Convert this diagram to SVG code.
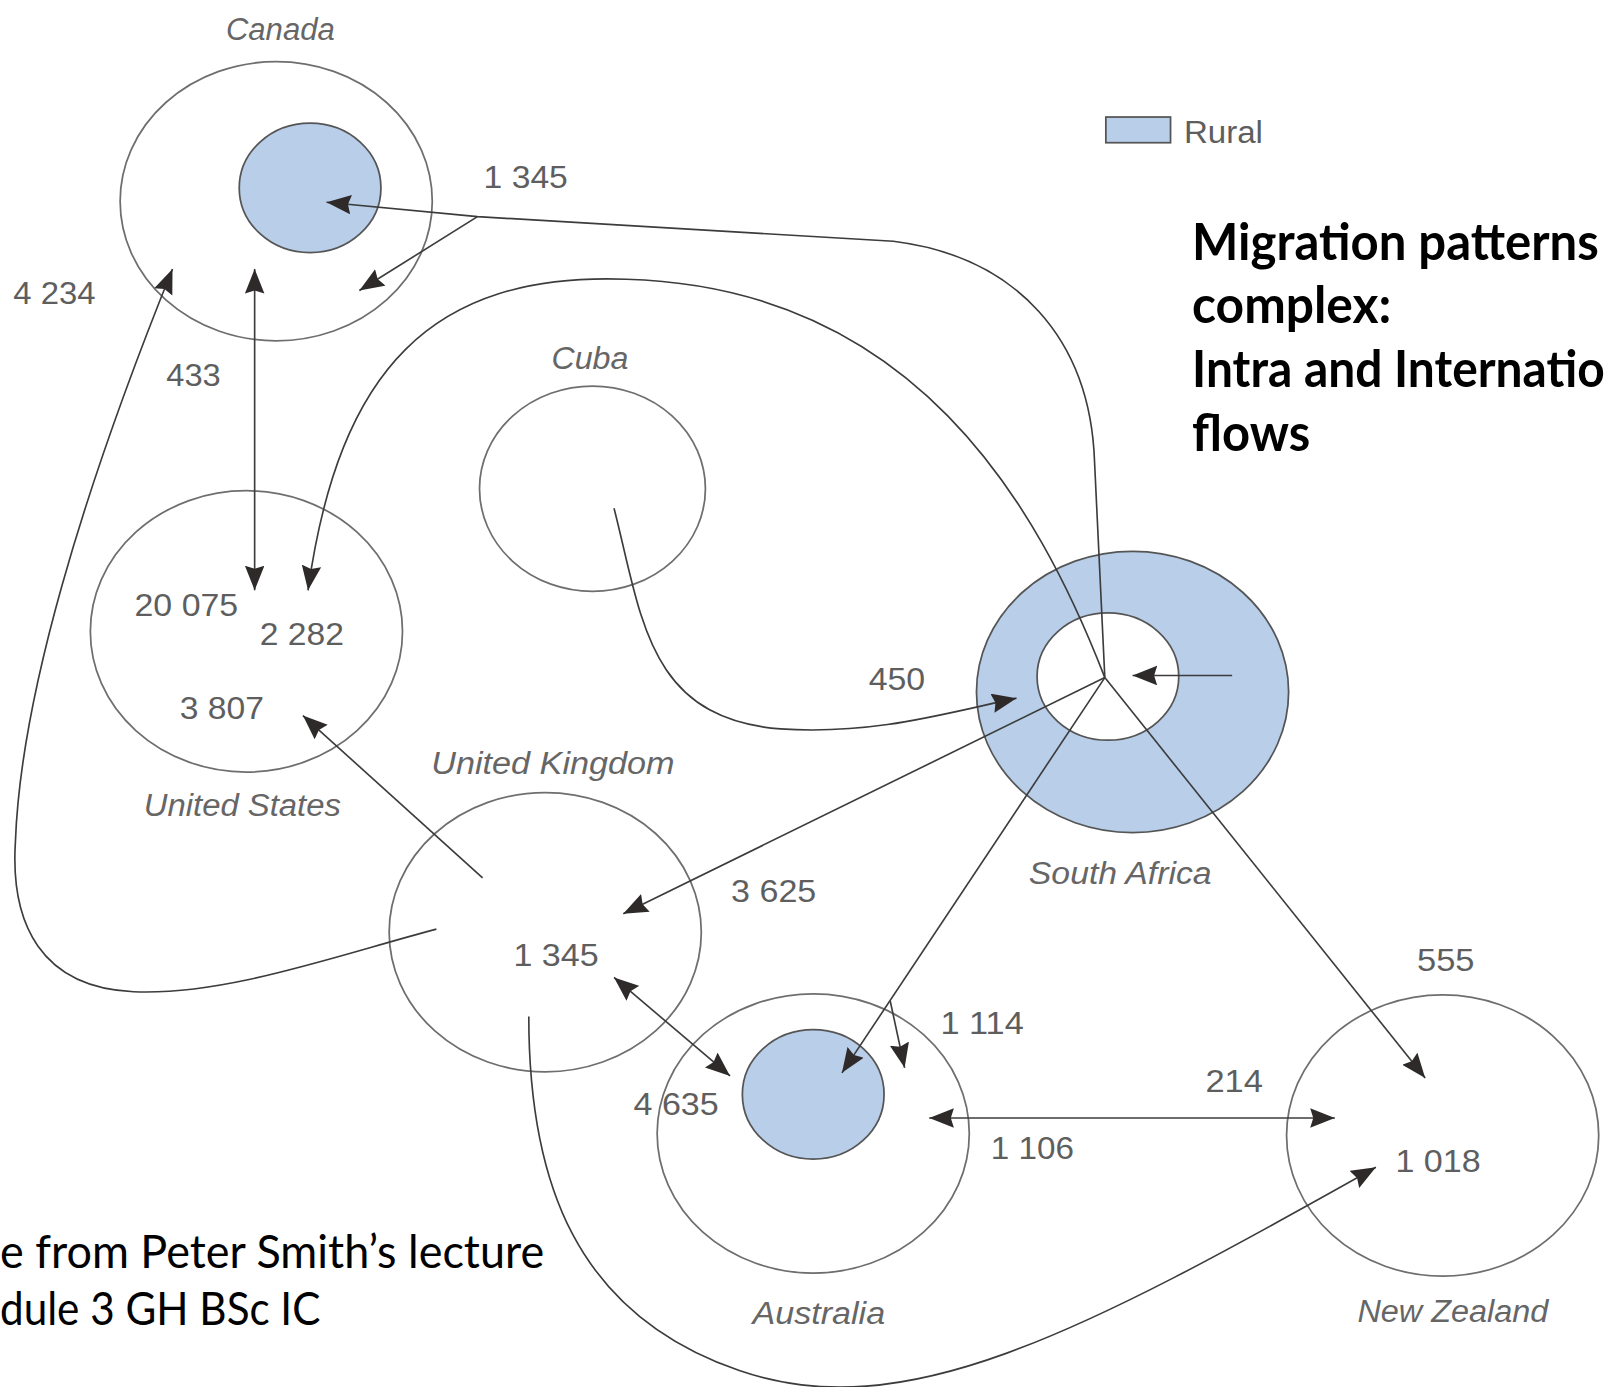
<svg xmlns="http://www.w3.org/2000/svg" width="1610" height="1387" viewBox="0 0 1610 1387">
<style>
.ring{fill:#ffffff;stroke:#6e6e6e;stroke-width:1.7}
.rural{fill:#b8cee9;stroke:#555;stroke-width:1.7}
.flow{fill:none;stroke:#3c3c3c;stroke-width:1.6}
.num{font-family:"Liberation Sans",Arial,sans-serif;font-size:31px;fill:#5e5e5e}
.name{font-family:"Liberation Sans",Arial,sans-serif;font-size:31px;font-style:italic;fill:#666}
.head{font-family:Lato,"Open Sans",sans-serif;font-weight:bold;font-size:50px;fill:#000}
.note{font-family:Lato,"Open Sans",sans-serif;font-size:45px;fill:#000}
</style>
<defs>
<marker id="ah" markerUnits="userSpaceOnUse" markerWidth="26" markerHeight="20" refX="24" refY="9.5" orient="auto-start-reverse" viewBox="0 0 26 20">
<path d="M0,0 L24,9.5 L0,19 L3,9.5 Z" fill="#2e2a2a"/>
</marker>
</defs>
<rect width="1610" height="1387" fill="#ffffff"/>
<g transform="scale(1.02679 1.02666)">
<g id="canada">
<ellipse class="ring" cx="269" cy="196" rx="152" ry="136"/>
<ellipse class="rural" cx="302" cy="183" rx="69" ry="63"/>
<text class="name" x="220" y="39" textLength="106" lengthAdjust="spacingAndGlyphs">Canada</text>
</g>
<g id="cuba">
<ellipse class="ring" cx="577" cy="476" rx="110" ry="100"/>
<text class="name" x="537" y="359" textLength="75" lengthAdjust="spacingAndGlyphs">Cuba</text>
</g>
<g id="united-states">
<ellipse class="ring" cx="240" cy="615" rx="152" ry="137"/>
<text class="name" x="140" y="795" textLength="192" lengthAdjust="spacingAndGlyphs">United States</text>
</g>
<g id="united-kingdom">
<ellipse class="ring" cx="531" cy="908" rx="152" ry="136"/>
<text class="name" x="420" y="754" textLength="237" lengthAdjust="spacingAndGlyphs">United Kingdom</text>
</g>
<g id="south-africa">
<ellipse class="rural" cx="1103" cy="674" rx="152" ry="137"/>
<ellipse class="ring" cx="1079" cy="659" rx="69" ry="62" style="stroke:#555"/>
<text class="name" x="1002" y="861" textLength="178" lengthAdjust="spacingAndGlyphs">South Africa</text>
</g>
<g id="australia">
<ellipse class="ring" cx="792" cy="1104" rx="152" ry="136"/>
<ellipse class="rural" cx="792" cy="1066" rx="69" ry="63"/>
<text class="name" x="733" y="1290" textLength="129" lengthAdjust="spacingAndGlyphs">Australia</text>
</g>
<g id="new-zealand">
<ellipse class="ring" cx="1405" cy="1106" rx="152" ry="137"/>
<text class="name" x="1322" y="1288" textLength="186" lengthAdjust="spacingAndGlyphs">New Zealand</text>
</g>
<g id="legend">
<rect x="1077" y="114" width="63" height="25" class="rural"/>
<text class="num" x="1153" y="139" textLength="77" lengthAdjust="spacingAndGlyphs">Rural</text>
</g>
<g id="connectors">
<path class="flow" d="M1076,660 L1066,450 C1062,330 990,250 870,235 L465,211 L318,197" marker-end="url(#ah)"/>
<path class="flow" d="M465,211 L350,283" marker-end="url(#ah)"/>
<path class="flow" d="M1076,660 C1010,490 890,280 610,272 C420,265 330,360 300,575" marker-end="url(#ah)"/>
<path class="flow" d="M248,262 L248,575" marker-start="url(#ah)" marker-end="url(#ah)"/>
<path class="flow" d="M425,905 C330,930 220,970 130,966 C40,962 10,900 15,820 C20,680 80,480 168,262" marker-end="url(#ah)"/>
<path class="flow" d="M470,855 L295,697" marker-end="url(#ah)"/>
<path class="flow" d="M598,495 C625,600 630,700 760,710 C850,716 920,695 990,680" marker-end="url(#ah)"/>
<path class="flow" d="M1076,660 L607,890" marker-end="url(#ah)"/>
<path class="flow" d="M1076,660 L820,1045" marker-end="url(#ah)"/>
<path class="flow" d="M1076,660 L1388,1050" marker-end="url(#ah)"/>
<path class="flow" d="M1200,658 L1103,658" marker-end="url(#ah)"/>
<path class="flow" d="M598,952 L711,1048" marker-start="url(#ah)" marker-end="url(#ah)"/>
<path class="flow" d="M867,975 L881,1040" marker-end="url(#ah)"/>
<path class="flow" d="M905,1089 L1300,1089" marker-start="url(#ah)" marker-end="url(#ah)"/>
<path class="flow" d="M515,990 C515,1150 560,1280 720,1335 C880,1390 1050,1300 1340,1137" marker-end="url(#ah)"/>
</g>
<g id="flow-labels">
<text class="num" x="471" y="183" textLength="82" lengthAdjust="spacingAndGlyphs">1 345</text>
<text class="num" x="13" y="296" textLength="80" lengthAdjust="spacingAndGlyphs">4 234</text>
<text class="num" x="162" y="376" textLength="53" lengthAdjust="spacingAndGlyphs">433</text>
<text class="num" x="131" y="600" textLength="101" lengthAdjust="spacingAndGlyphs">20 075</text>
<text class="num" x="253" y="628" textLength="82" lengthAdjust="spacingAndGlyphs">2 282</text>
<text class="num" x="175" y="700" textLength="82" lengthAdjust="spacingAndGlyphs">3 807</text>
<text class="num" x="846" y="672" textLength="55" lengthAdjust="spacingAndGlyphs">450</text>
<text class="num" x="712" y="879" textLength="83" lengthAdjust="spacingAndGlyphs">3 625</text>
<text class="num" x="500" y="941" textLength="83" lengthAdjust="spacingAndGlyphs">1 345</text>
<text class="num" x="1380" y="946" textLength="56" lengthAdjust="spacingAndGlyphs">555</text>
<text class="num" x="916" y="1007" textLength="81" lengthAdjust="spacingAndGlyphs">1 114</text>
<text class="num" x="1174" y="1064" textLength="56" lengthAdjust="spacingAndGlyphs">214</text>
<text class="num" x="617" y="1086" textLength="83" lengthAdjust="spacingAndGlyphs">4 635</text>
<text class="num" x="965" y="1129" textLength="81" lengthAdjust="spacingAndGlyphs">1 106</text>
<text class="num" x="1359" y="1142" textLength="83" lengthAdjust="spacingAndGlyphs">1 018</text>
</g>
<g id="title">
<text class="head" x="1161" y="253" textLength="396" lengthAdjust="spacingAndGlyphs">Migration patterns</text>
<text class="head" x="1161" y="315" textLength="194" lengthAdjust="spacingAndGlyphs">complex:</text>
<text class="head" x="1161" y="377" textLength="402" lengthAdjust="spacingAndGlyphs">Intra and Internatio</text>
<text class="head" x="1161" y="439" textLength="115" lengthAdjust="spacingAndGlyphs">flows</text>
</g>
<g id="source-note">
<text class="note" x="0" y="1235" textLength="530" lengthAdjust="spacingAndGlyphs">e from Peter Smith’s lecture</text>
<text class="note" x="0" y="1291" textLength="312" lengthAdjust="spacingAndGlyphs">dule 3 GH BSc IC</text>
</g>
</g>
</svg>
